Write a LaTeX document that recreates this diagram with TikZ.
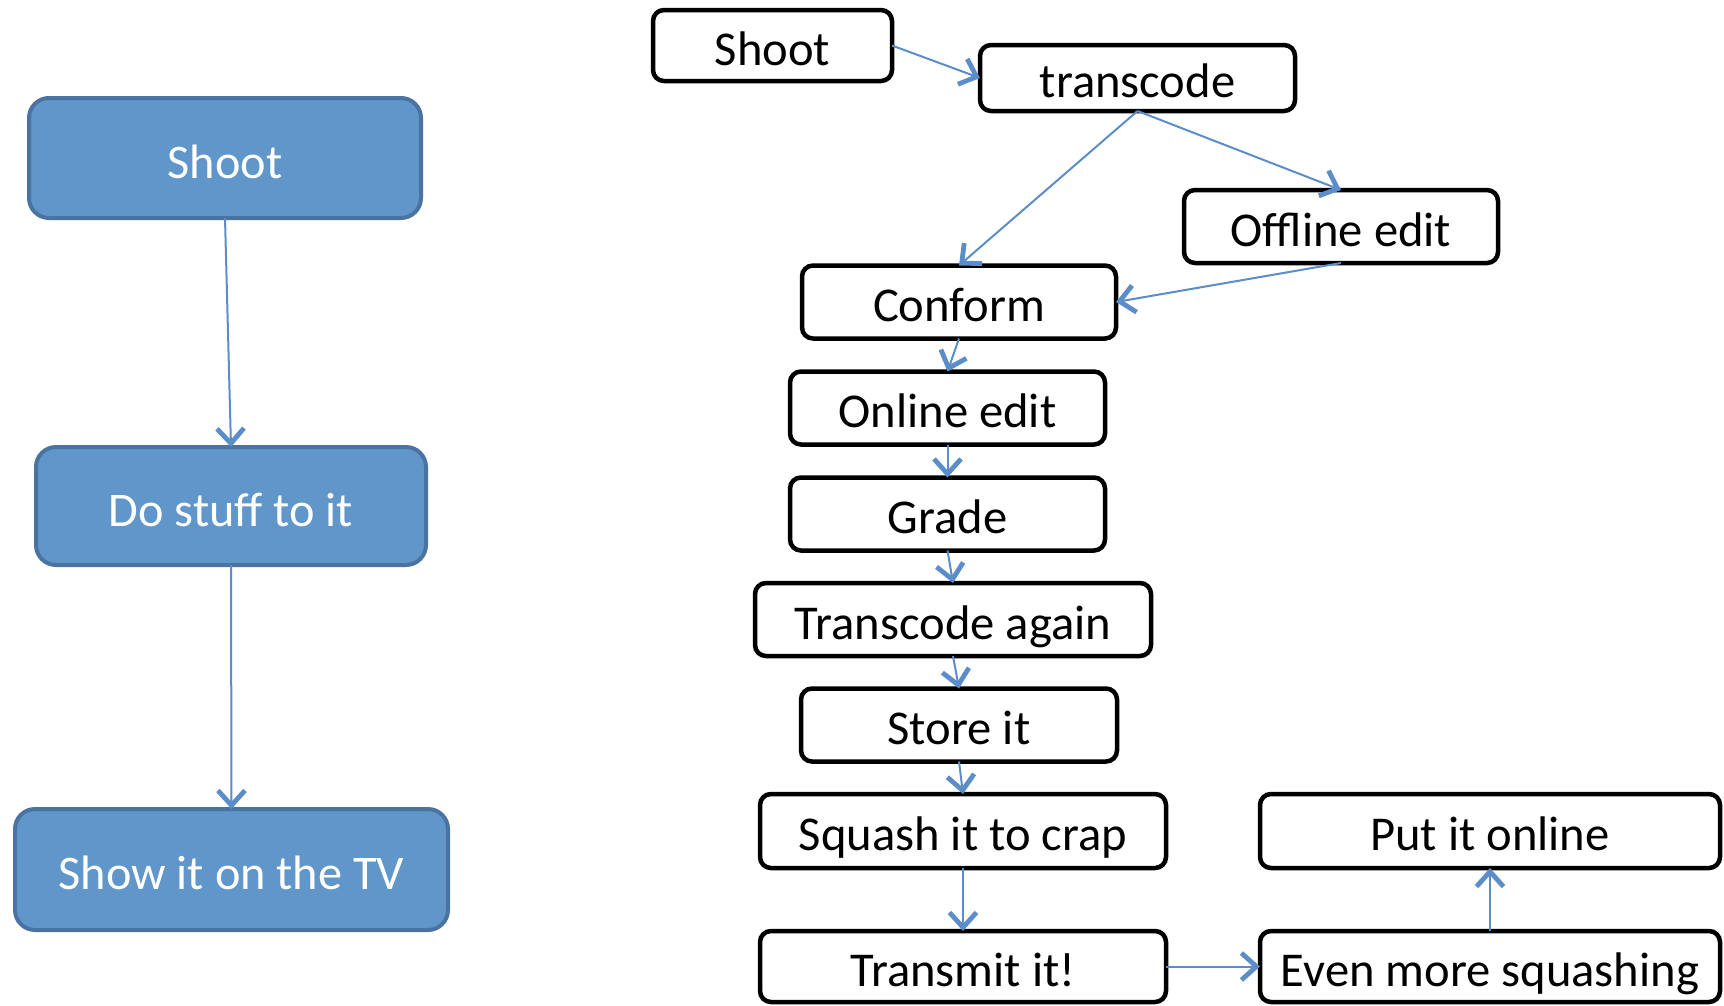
\documentclass[tikz,border=0pt]{standalone}
\usepackage{fontspec}
\setmainfont{Carlito}
\usetikzlibrary{arrows.meta}
\definecolor{bfill}{HTML}{6096C9}
\definecolor{bline}{HTML}{4A73A1}
\definecolor{arr}{HTML}{5B8EC8}
\tikzset{
  bluebox/.style={draw=bline, fill=bfill, line width=4pt, rounded corners=20pt,
    text=white, font=\fontsize{48.3pt}{52pt}\selectfont, inner sep=0pt, outer sep=0pt,
    text height=40pt, text depth=0pt},
  wbox/.style={draw=black, fill=white, line width=4.5pt, rounded corners=11pt,
    text=black, font=\fontsize{48.6pt}{52pt}\selectfont, inner sep=0pt, outer sep=0pt,
    text height=39pt, text depth=0pt},
  conn/.style={draw=arr, line width=2pt,
    -{Straight Barb[length=15pt, width=27pt, line width=4.8pt]}},
}
\begin{document}
\begin{tikzpicture}[x=1pt, y=-1pt]
\useasboundingbox (0,0) rectangle (1724,1005);
% left column
\node[bluebox, minimum width=392pt, minimum height=120pt] (lshoot) at (225,158) {Shoot};
\node[bluebox, minimum width=390pt, minimum height=118pt] (lstuff) at (231,506) {Do stuff to it};
\node[bluebox, minimum width=433pt, minimum height=121pt] (ltv) at (231.5,869.5) {Show it on the TV};
\draw[conn] (lshoot.south) -- (lstuff.north);
\draw[conn] (lstuff.south) -- (ltv.north);
% right column
\node[wbox, minimum width=239pt, minimum height=71pt] (rshoot) at (772.5,45.5) {Shoot};
\node[wbox, minimum width=315pt, minimum height=66pt] (trans) at (1137.5,78) {transcode};
\node[wbox, minimum width=314pt, minimum height=73pt] (offl) at (1341,226.5) {Offline edit};
\node[wbox, minimum width=314pt, minimum height=73pt] (conf) at (959,302) {Conform};
\node[wbox, minimum width=315pt, minimum height=73pt] (onl) at (947.5,408) {Online edit};
\node[wbox, minimum width=315pt, minimum height=73pt] (grade) at (947.5,514) {Grade};
\node[wbox, minimum width=396pt, minimum height=73pt] (tagain) at (953,619.5) {Transcode again};
\node[wbox, minimum width=316pt, minimum height=73pt] (store) at (959,725) {Store it};
\node[wbox, minimum width=406pt, minimum height=74pt] (squash) at (963,831) {Squash it to crap};
\node[wbox, minimum width=406pt, minimum height=71pt] (transm) at (963,966.5) {Transmit it!};
\node[wbox, minimum width=460pt, minimum height=74pt] (puton) at (1490,831) {Put it online};
\node[wbox, minimum width=460pt, minimum height=71pt] (even) at (1490,966.5) {Even more squashing};
\draw[conn] (rshoot.east) -- (trans.west);
\draw[conn] (trans.south) -- (conf.north);
\draw[conn] (trans.south) -- (offl.north);
\draw[conn] (offl.south) -- (conf.east);
\draw[conn] (conf.south) -- (onl.north);
\draw[conn] (onl.south) -- (grade.north);
\draw[conn] (grade.south) -- (tagain.north);
\draw[conn] (tagain.south) -- (store.north);
\draw[conn] (store.south) -- (squash.north);
\draw[conn] (squash.south) -- (transm.north);
\draw[conn] (transm.east) -- (even.west);
\draw[conn] (even.north) -- (puton.south);
\end{tikzpicture}
\end{document}
